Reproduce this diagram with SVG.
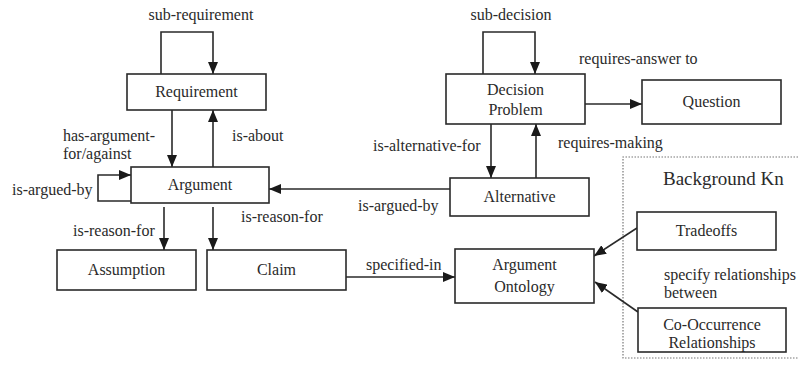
<svg xmlns="http://www.w3.org/2000/svg" width="798" height="369" viewBox="0 0 798 369">
<style>
.box{fill:#fff;stroke:#2a2a2a;stroke-width:1.6}
.ln{fill:none;stroke:#2a2a2a;stroke-width:1.6}
.ar{marker-end:url(#ah)}
text{font-family:'Liberation Serif','Times New Roman',serif;font-size:16px;fill:#2a2a2a}
.c{text-anchor:middle}
</style>
<defs>
<marker id="ah" markerUnits="userSpaceOnUse" markerWidth="12" markerHeight="10" refX="12" refY="5" orient="auto" viewBox="0 0 12 10">
<path d="M0,0 L12,5 L0,10 z" fill="#1a1a1a"/>
</marker>
</defs>
<rect width="798" height="369" fill="#fff"/>
<g id="background">
<path d="M798,157 L623,157 L623,358 L798,358" fill="none" stroke="#777" stroke-width="1.2" stroke-dasharray="1.5,1.5"/>
<text x="663" y="185" style="font-size:19px">Background Kn</text>
</g>
<g id="connectors">
<polyline class="ln ar" points="161,74 161,32 213,32 213,74"/>
<text class="c" x="201" y="20">sub-requirement</text>
<line class="ln ar" x1="172" y1="110" x2="172" y2="167"/>
<line class="ln ar" x1="213" y1="167" x2="213" y2="110"/>
<text x="63" y="141">has-argument-</text>
<text x="63" y="159">for/against</text>
<text x="232" y="141">is-about</text>
<polyline class="ln ar" points="131,201 98,201 98,175 131,175"/>
<text x="12" y="195">is-argued-by</text>
<line class="ln ar" x1="164" y1="207" x2="164" y2="250"/>
<line class="ln ar" x1="213" y1="207" x2="213" y2="250"/>
<text x="73" y="236">is-reason-for</text>
<text x="241" y="222">is-reason-for</text>
<line class="ln ar" x1="450" y1="189" x2="269" y2="189"/>
<text x="358" y="211">is-argued-by</text>
<line class="ln ar" x1="346" y1="277" x2="455" y2="277"/>
<text x="366" y="270">specified-in</text>
<polyline class="ln ar" points="483,74 483,32 535,32 535,74"/>
<text class="c" x="511" y="20">sub-decision</text>
<line class="ln ar" x1="491" y1="124" x2="491" y2="178"/>
<line class="ln ar" x1="536" y1="178" x2="536" y2="124"/>
<text x="373" y="151">is-alternative-for</text>
<text x="558" y="148">requires-making</text>
<line class="ln ar" x1="585" y1="104" x2="642" y2="104"/>
<text x="579" y="64">requires-answer to</text>
<line class="ln ar" x1="637" y1="228" x2="594" y2="256"/>
<line class="ln ar" x1="638" y1="312" x2="595" y2="282"/>
<text x="664" y="280">specify relationships</text>
<text x="664" y="298">between</text>
</g>
<g id="requirement"><rect class="box" x="127" y="74" width="139" height="36"/><text class="c" x="196.5" y="97">Requirement</text></g>
<g id="argument"><rect class="box" x="131" y="167" width="138" height="36"/><text class="c" x="200" y="190">Argument</text></g>
<g id="assumption"><rect class="box" x="57" y="250" width="139" height="40"/><text class="c" x="126.5" y="275">Assumption</text></g>
<g id="claim"><rect class="box" x="207" y="250" width="139" height="40"/><text class="c" x="276.5" y="275">Claim</text></g>
<g id="decision-problem"><rect class="box" x="446" y="74" width="139" height="50"/><text class="c" x="515.5" y="95">Decision</text><text class="c" x="515.5" y="115">Problem</text></g>
<g id="question"><rect class="box" x="642" y="80" width="139" height="44"/><text class="c" x="711.5" y="107">Question</text></g>
<g id="alternative"><rect class="box" x="450" y="178" width="139" height="38"/><text class="c" x="519.5" y="202">Alternative</text></g>
<g id="argument-ontology"><rect class="box" x="455" y="249" width="139" height="54"/><text class="c" x="524.5" y="270">Argument</text><text class="c" x="524.5" y="292">Ontology</text></g>
<g id="tradeoffs"><rect class="box" x="637" y="212" width="139" height="38"/><text class="c" x="706.5" y="236">Tradeoffs</text></g>
<g id="co-occurrence"><rect class="box" x="638" y="308" width="148" height="44"/><text class="c" x="712" y="330">Co-Occurrence</text><text class="c" x="712" y="348">Relationships</text></g>
</svg>
